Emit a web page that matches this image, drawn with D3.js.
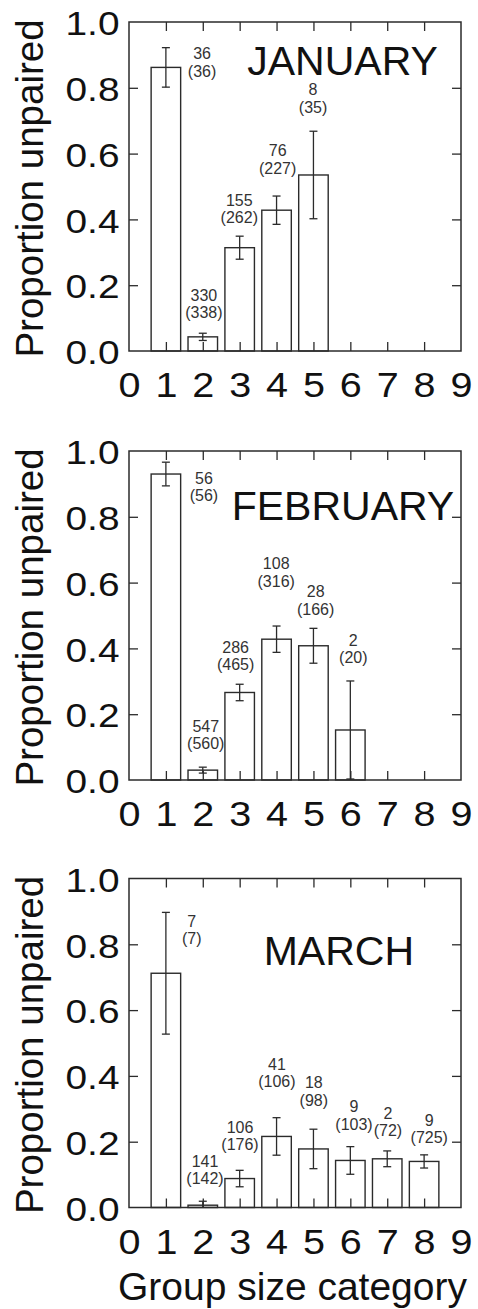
<!DOCTYPE html>
<html>
<head>
<meta charset="utf-8">
<script src="https://cdn.jsdelivr.net/npm/d3@7"></script>
<style>
  body { margin: 0; background: #fff; }
  text { font-family: "Liberation Sans", Arial, sans-serif; }
</style>
</head>
<body>
<script>
// categories and ticks
const xTickLabels = [0, 1, 2, 3, 4, 5, 6, 7, 8, 9];
const innerXTicks = [1, 2, 3, 4, 5, 6, 7, 8];
const yTickLabels = [0, 0.2, 0.4, 0.6, 0.8, 1.0];
const innerYTicks = [0.2, 0.4, 0.6, 0.8];

// January
const janCats = [1, 2, 3, 4, 5];
const janValues = [0.862, 0.043, 0.314, 0.428, 0.535];
const janErrors = [0.060, 0.011, 0.035, 0.043, 0.133];
const janUnpaired = ["36", "330", "155", "76", "8"];
const janTotals = ["(36)", "(338)", "(262)", "(227)", "(35)"];
const janLabelX = [1.98, 2.03, 2.99, 4.03, 4.99];
const janLabelY = [0.834, 0.100, 0.389, 0.538, 0.724];

// February
const febCats = [1, 2, 3, 4, 5, 6];
const febValues = [0.930, 0.030, 0.266, 0.428, 0.408, 0.152];
const febErrors = [0.036, 0.009, 0.025, 0.040, 0.053, 0.149];
const febUnpaired = ["56", "547", "286", "108", "28", "2"];
const febTotals = ["(56)", "(560)", "(465)", "(316)", "(166)", "(20)"];
const febLabelX = [2.03, 2.08, 2.89, 3.99, 5.06, 6.08];
const febLabelY = [0.848, 0.094, 0.334, 0.588, 0.502, 0.355];

// March
const marCats = [1, 2, 3, 4, 5, 6, 7, 8];
const marValues = [0.712, 0.007, 0.088, 0.216, 0.178, 0.143, 0.148, 0.140];
const marErrors = [0.185, 0.012, 0.025, 0.057, 0.060, 0.042, 0.024, 0.020];
const marUnpaired = ["7", "141", "106", "41", "18", "9", "2", "9"];
const marTotals = ["(7)", "(142)", "(176)", "(106)", "(98)", "(103)", "(72)", "(725)"];
const marLabelX = [1.70, 2.06, 3.01, 4.01, 5.01, 6.10, 7.02, 8.14];
const marLabelY = [0.800, 0.070, 0.174, 0.366, 0.309, 0.237, 0.216, 0.196];

const panels = [
  {name: "JANUARY", top: 22, titleX: 5.79, titleY: 0.838,
   cats: janCats, values: janValues, errors: janErrors, unpaired: janUnpaired, totals: janTotals, lx: janLabelX, ly: janLabelY},
  {name: "FEBRUARY", top: 451, titleX: 5.80, titleY: 0.790,
   cats: febCats, values: febValues, errors: febErrors, unpaired: febUnpaired, totals: febTotals, lx: febLabelX, ly: febLabelY},
  {name: "MARCH", top: 878.5, titleX: 5.69, titleY: 0.737,
   cats: marCats, values: marValues, errors: marErrors, unpaired: marUnpaired, totals: marTotals, lx: marLabelX, ly: marLabelY}
];

const width = 478, height = 1309;
const left = 129, W = 332, H = 329;
const ink = "#2b2b2b";

const svg = d3.select("body").append("svg")
  .attr("width", width)
  .attr("height", height);

const x = d3.scaleLinear().domain([0, 9]).range([0, W]);
const y = d3.scaleLinear().domain([0, 1]).range([H, 0]);
const barW = x(0.8) - x(0);

function drawPanel(p) {
  const g = svg.append("g").attr("transform", `translate(${left},${p.top})`);
  const rows = p.cats.map((c, i) => ({c: c, v: p.values[i], e: p.errors[i]}));

  // bars
  g.selectAll("rect.bar")
    .data(rows)
    .join("rect")
    .attr("class", "bar")
    .attr("x", d => x(d.c) - barW / 2)
    .attr("y", d => y(d.v))
    .attr("width", barW)
    .attr("height", d => y(0) - y(d.v))
    .attr("fill", "#fff")
    .attr("stroke", ink)
    .attr("stroke-width", 1.4);

  // error bars
  const eg = g.append("g").attr("stroke", ink).attr("stroke-width", 1.3);
  eg.selectAll("line.err")
    .data(rows)
    .join("line")
    .attr("x1", d => x(d.c)).attr("x2", d => x(d.c))
    .attr("y1", d => y(Math.max(0, d.v - d.e)))
    .attr("y2", d => y(d.v + d.e));
  eg.selectAll("line.capTop")
    .data(rows)
    .join("line")
    .attr("class", "capTop")
    .attr("x1", d => x(d.c) - 4).attr("x2", d => x(d.c) + 4)
    .attr("y1", d => y(d.v + d.e)).attr("y2", d => y(d.v + d.e));
  eg.selectAll("line.capBot")
    .data(rows.filter(d => d.v - d.e > 0))
    .join("line")
    .attr("class", "capBot")
    .attr("x1", d => x(d.c) - 4).attr("x2", d => x(d.c) + 4)
    .attr("y1", d => y(d.v - d.e)).attr("y2", d => y(d.v - d.e));

  // inward tick marks on all four sides
  const tickStyle = sel => {
    sel.select(".domain").remove();
    sel.selectAll("line").attr("stroke", ink).attr("stroke-width", 1.3);
    sel.selectAll("text").remove();
  };
  g.append("g").attr("transform", `translate(0,${H})`)
    .call(d3.axisBottom(x).tickValues(innerXTicks).tickSize(-9)).call(tickStyle);
  g.append("g")
    .call(d3.axisTop(x).tickValues(innerXTicks).tickSize(-9)).call(tickStyle);
  g.append("g")
    .call(d3.axisLeft(y).tickValues(innerYTicks).tickSize(-9)).call(tickStyle);
  g.append("g").attr("transform", `translate(${W},0)`)
    .call(d3.axisRight(y).tickValues(innerYTicks).tickSize(-9)).call(tickStyle);

  // frame
  g.append("rect")
    .attr("x", 0).attr("y", 0).attr("width", W).attr("height", H)
    .attr("fill", "none").attr("stroke", ink).attr("stroke-width", 1.5);

  // tick labels
  const xl = g.append("g").attr("transform", `translate(0,${H})`)
    .call(d3.axisBottom(x).tickValues(xTickLabels).tickSize(0).tickFormat(d3.format("d")));
  xl.select(".domain").remove();
  xl.selectAll("text")
    .attr("y", 46).attr("dy", null)
    .attr("font-size", 35)
    .attr("textLength", 22).attr("lengthAdjust", "spacingAndGlyphs")
    .attr("fill", "#111");

  const yl = g.append("g")
    .call(d3.axisLeft(y).tickValues(yTickLabels).tickSize(0).tickFormat(d3.format(".1f")));
  yl.select(".domain").remove();
  yl.selectAll("text")
    .attr("x", -9.5).attr("dy", "0.38em")
    .attr("font-size", 33.5)
    .attr("textLength", 54).attr("lengthAdjust", "spacingAndGlyphs")
    .attr("fill", "#111");

  // month title
  g.append("text")
    .attr("x", x(p.titleX)).attr("y", y(p.titleY))
    .attr("text-anchor", "middle")
    .attr("font-size", 41)
    .attr("fill", "#111")
    .text(p.name);

  // count labels
  const lab = g.append("g").attr("font-size", 16).attr("fill", "#333").attr("text-anchor", "middle");
  p.cats.forEach((c, i) => {
    lab.append("text").attr("x", x(p.lx[i])).attr("y", y(p.ly[i]) - 17.5).text(p.unpaired[i]);
    lab.append("text").attr("x", x(p.lx[i])).attr("y", y(p.ly[i])).text(p.totals[i]);
  });

  // y axis title
  svg.append("text")
    .attr("transform", `translate(43,${p.top + H / 2 + 2}) rotate(-90)`)
    .attr("text-anchor", "middle")
    .attr("font-size", 38.5)
    .attr("fill", "#111")
    .text("Proportion unpaired");
}

panels.forEach(drawPanel);

svg.append("text")
  .attr("x", 292.5).attr("y", 1300)
  .attr("text-anchor", "middle")
  .attr("font-size", 39)
  .attr("fill", "#111")
  .text("Group size category");
</script>
</body>
</html>
